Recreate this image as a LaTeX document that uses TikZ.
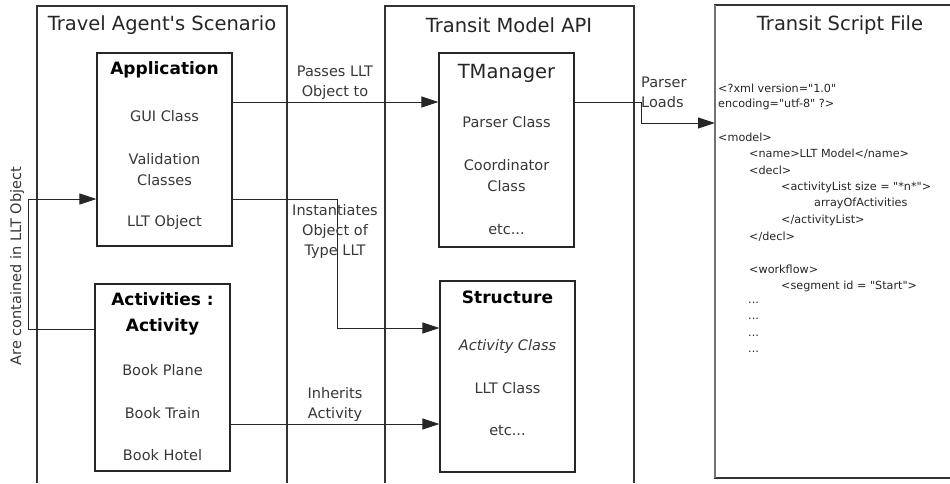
\documentclass[tikz,border=0pt]{standalone}
\usepackage{fontspec}
\setmainfont{DejaVu Sans}[Ligatures=TeXOff]
\usetikzlibrary{arrows.meta}
\tikzset{
  frame/.style={draw=black!80, line width=1.2pt},
  classbox/.style={draw=black!85, line width=1.2pt, minimum width=135pt, inner sep=0pt},
  title/.style={font=\fontsize{19.5}{22}\selectfont, text=black!85, inner sep=0pt},
  head/.style={font=\fontsize{17}{22}\selectfont\bfseries, text=black, inner sep=0pt},
  item/.style={font=\fontsize{14.5}{17}\selectfont, text=black!78, inner sep=0pt},
  lbl/.style={font=\fontsize{14.5}{17}\selectfont, text=black!78, inner sep=0pt, align=center},
  code/.style={font=\fontsize{11.2}{13}\selectfont, text=black!85, inner sep=0pt, anchor=west},
  link/.style={draw=black!85, line width=1pt},
  arrowlink/.style={link, -{Triangle[length=17pt,width=11pt]}}
}
\begin{document}
\begin{tikzpicture}[x=1pt, y=-1pt]
\useasboundingbox[fill=white] (0,0) rectangle (950,483);

% outer frames
\draw[frame] (37,483) -- (37,6) -- (287,6) -- (287,483);
\draw[frame] (385,483) -- (385,6) -- (634,6) -- (634,483);
\draw[frame] (950,5) -- (715,5) -- (715,478) -- (950,478);
\draw[draw=black!55, line width=2pt] (715,5) -- (715,478);

\node[title] (tTravel) at (162,25) {Travel Agent's Scenario};
\node[title] (tApi) at (509,25) {Transit Model API};
\node[title] (tScript) at (840,25) {Transit Script File};

% class boxes
\node[classbox, minimum height=193pt] (app) at (164.5,149.5) {};
\node[classbox, minimum height=187pt] (act) at (162.5,377.5) {};
\node[classbox, minimum height=194pt] (tm) at (506.5,150) {};
\node[classbox, minimum height=191pt] (st) at (507.5,376.5) {};

% Application
\node[head] (appH) at (164.5,70) {Application};
\node[item] (app1) at (164.5,116) {GUI Class};
\node[item, align=center] (app2) at (164.5,169.5) {Validation\\[4pt]Classes};
\node[item] (app3) at (164.5,222) {LLT Object};

% Activities
\node[head, align=center] (actH) at (162.5,313.5) {Activities :\\[4pt]Activity};
\node[item] (act1) at (162.5,370) {Book Plane};
\node[item] (act2) at (162.5,413) {Book Train};
\node[item] (act3) at (162.5,455) {Book Hotel};

% TManager
\node[title] (tmH) at (506.5,73) {TManager};
\node[item] (tm1) at (506.5,122) {Parser Class};
\node[item, align=center] (tm2) at (506.5,176) {Coordinator\\[4pt]Class};
\node[item] (tm3) at (506.5,230) {etc...};

% Structure
\node[head] (stH) at (507.5,297) {Structure};
\node[item] (st1) at (507.5,346) {\itshape Activity Class};
\node[item] (st2) at (507.5,388) {LLT Class};
\node[item] (st3) at (507.5,431) {etc...};

% script file listing
\node[code] (c1) at (718,88) {<?xml version="1.0"};
\node[code] (c2) at (718,104.5) {encoding="utf-8" ?>};
\node[code] (c3) at (718,137.5) {<model>};
\node[code] (c4) at (749,154) {<name>LLT Model</name>};
\node[code] (c5) at (749,170.5) {<decl>};
\node[code] (c6) at (781,187) {<activityList size = "*n*">};
\node[code] (c7) at (814,203.5) {arrayOfActivities};
\node[code] (c8) at (781,220) {</activityList>};
\node[code] (c9) at (749,236.5) {</decl>};
\node[code] (c10) at (749,269.5) {<workflow>};
\node[code] (c11) at (781,286) {<segment id = "Start">};
\node[code] (c12) at (748,302.5) {...};
\node[code] (c13) at (748,319) {...};
\node[code] (c14) at (748,335.5) {...};
\node[code] (c15) at (748,352) {...};

% connector routing points
\coordinate (passY) at (0,102);
\coordinate (instY) at (0,199);
\coordinate (instX) at (337,0);
\coordinate (instIn) at (0,328);
\coordinate (inhY) at (0,424);
\coordinate (contY) at (0,329);
\coordinate (contX) at (28,0);
\coordinate (loadX) at (641,0);
\coordinate (loadIn) at (0,123);

% Passes LLT Object to
\draw[arrowlink] (app.east |- passY) -- (tm.west |- passY);
\node[lbl] (passL) at (335,82.5) {Passes LLT\\[3pt]Object to};

% Parser Loads
\draw[arrowlink] (tm.east |- passY) -| (loadX |- loadIn) -- (715,123);
\node[lbl, align=left, anchor=west] (loadL) at (641,92.5) {Parser\\[3pt]Loads};

% Instantiates Object of Type LLT
\draw[arrowlink] (app.east |- instY) -| (instX |- instIn) -- (st.west |- instIn);
\node[lbl] (instL) at (335,231) {Instantiates\\[3pt]Object of\\[3pt]Type LLT};

% Inherits Activity
\draw[arrowlink] (act.east |- inhY) -- (st.west |- inhY);
\node[lbl] (inhL) at (335,404) {Inherits\\[3pt]Activity};

% Are contained in LLT Object
\draw[arrowlink] (act.west |- contY) -| (contX |- instY) -- (app.west |- instY);
\node[lbl, rotate=90] (contL) at (17,266) {Are contained in LLT Object};
\end{tikzpicture}
\end{document}
